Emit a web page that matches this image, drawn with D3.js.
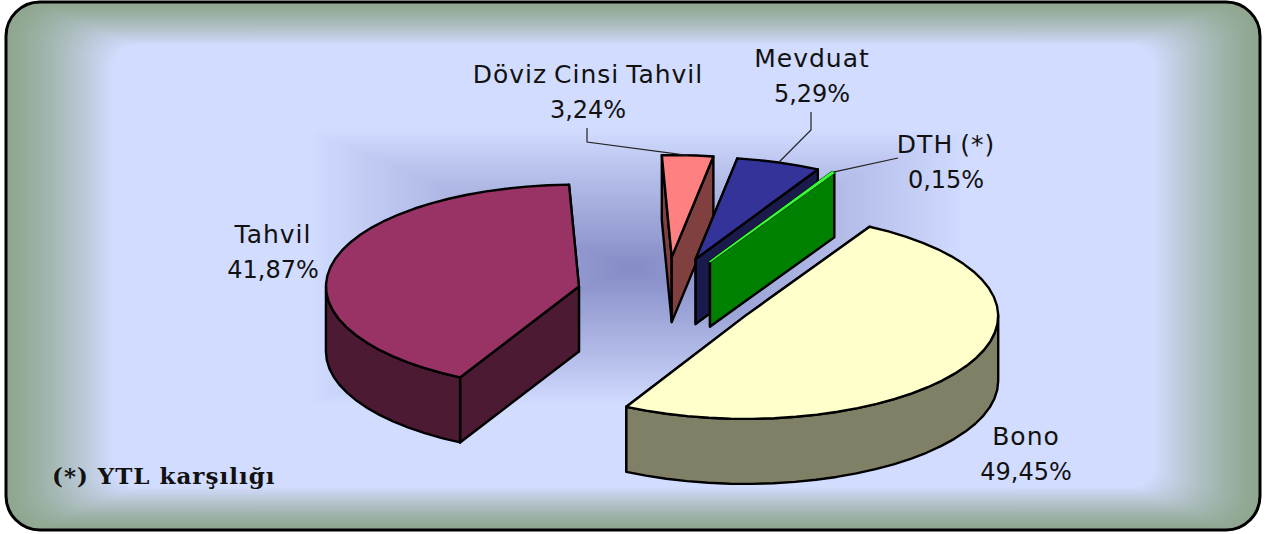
<!DOCTYPE html>
<html>
<head>
<meta charset="utf-8">
<script src="https://cdnjs.cloudflare.com/ajax/libs/d3/7.8.5/d3.min.js"></script>
<style>
  html, body { margin: 0; padding: 0; background: #fff; }
  svg { display: block; }
  text { font-family: "DejaVu Sans", sans-serif; fill: #111; }
</style>
</head>
<body>
<svg id="chart" width="1265" height="534"></svg>
<script>
// Veriler
const names = ["Bono", "Tahvil", "Döviz Cinsi Tahvil", "Mevduat", "DTH (*)"];
const shares = [49.45, 41.87, 3.24, 5.29, 0.15];
const footnote = "(*) YTL karşılığı";

const topColors = ["#ffffcc", "#993366", "#ff8080", "#333399", "#33ff33"];
const sideColors = ["#808066", "#4d1a33", "#804040", "#1a1a4d", "#008000"];

const svg = d3.select("#chart");
const box = {x: 6, y: 2, w: 1254, h: 528, r: 34};

// --- Arka plan: dikdörtgen yollu gradyanlar ---
const bg = svg.append("g");
const frameColor = d3.interpolateRgb("#8fa68f", "#d2dcff");
const nFrame = 50;
d3.range(nFrame + 1).forEach(i => {
  const t = i / nFrame;
  const l = 107 * t, r = 105 * t, v = 43 * t;
  bg.append("rect")
    .attr("x", box.x + l)
    .attr("y", box.y + v)
    .attr("width", box.w - l - r)
    .attr("height", box.h - 2 * v)
    .attr("rx", Math.max(box.r - 10 * t, 0))
    .attr("fill", frameColor(Math.pow(t, 1.3)));
});

const glowColor = d3.interpolateRgb("#d2dcff", "#858cc6");
const glow = {x0: 310, x1: 965, y0: 130, y1: 405, cx: 632, cy: 268};
const nGlow = 70;
d3.range(nGlow).forEach(i => {
  const t = i / nGlow;
  bg.append("rect")
    .attr("x", glow.x0 + (glow.cx - glow.x0) * t)
    .attr("y", glow.y0 + (glow.cy - glow.y0) * t)
    .attr("width", (glow.x1 - glow.x0) * (1 - t))
    .attr("height", (glow.y1 - glow.y0) * (1 - t))
    .attr("fill", glowColor(Math.pow(t, 0.9)));
});

svg.append("rect")
  .attr("x", box.x).attr("y", box.y)
  .attr("width", box.w).attr("height", box.h)
  .attr("rx", box.r)
  .attr("fill", "none")
  .attr("stroke", "#000")
  .attr("stroke-width", 3);

// --- Pasta (3B izdüşüm) ---
const a = 253, b = 103, depth = 65;
const center = {x: 666.5, y: 296};
const explodeX = 90, explodeY = 41;

const pie = d3.pie().sort(null)
  .startAngle(Math.PI / 6)
  .endAngle(Math.PI / 6 + 2 * Math.PI);

// arka tarafta hafif perspektif kayması
const backPull = ang => Math.pow(Math.max(0, Math.cos(ang)), 4);

const slices = pie(shares).map((s, i) => {
  const mid = (s.startAngle + s.endAngle) / 2;
  return {
    ...s,
    i: i,
    mid: mid,
    cx: center.x + explodeX * Math.sin(mid) - 2 * backPull(mid),
    cy: center.y - explodeY * Math.cos(mid) + 2 * backPull(mid)
  };
});

const rimPoint = (s, ang, dz = 0) => {
  const warped = ang - (Math.PI / 180) * backPull(ang);
  return [s.cx + a * Math.sin(warped), s.cy - b * Math.cos(warped) + backPull(ang) + dz];
};
const line = d3.line();

function arcPoints(s, from, to, dz = 0) {
  const n = Math.max(Math.ceil((to - from) / (Math.PI / 36)), 1);
  return d3.range(n + 1).map(k => rimPoint(s, from + (to - from) * k / n, dz));
}

const g = svg.append("g")
  .attr("stroke", "#000")
  .attr("stroke-width", 2.4)
  .attr("stroke-linejoin", "round");

// Thứ tự vẽ: arkadan öne
[1, 2, 3, 4, 0].forEach(i => {
  const s = slices[i];
  const apex = [s.cx, s.cy], apexLow = [s.cx, s.cy + depth];

  // Yan duvarlar (uzak olan önce)
  [s.startAngle, s.endAngle]
    .sort((p, q) => d3.descending(Math.cos(p), Math.cos(q)))
    .forEach(ang => {
      g.append("path")
        .attr("d", line([apex, rimPoint(s, ang), rimPoint(s, ang, depth), apexLow]) + "Z")
        .attr("fill", sideColors[i]);
    });

  // Ön kenar (90°–270° arası görünür)
  [0, 2 * Math.PI].forEach(turn => {
    const from = Math.max(s.startAngle, Math.PI / 2 + turn);
    const to = Math.min(s.endAngle, 3 * Math.PI / 2 + turn);
    if (to > from) {
      const up = arcPoints(s, from, to);
      const down = arcPoints(s, from, to, depth).reverse();
      g.append("path")
        .attr("d", line(up.concat(down)) + "Z")
        .attr("fill", sideColors[i]);
    }
  });

  // Üst yüz (çok ince dilimde kenar rengi dolguyu kapatmasın)
  const thin = s.endAngle - s.startAngle < 0.05;
  g.append("path")
    .attr("d", line([apex].concat(arcPoints(s, s.startAngle, s.endAngle))) + "Z")
    .attr("fill", topColors[i])
    .attr("stroke", thin ? topColors[i] : "#000")
    .attr("stroke-width", thin ? 1.6 : 2.4);
});

// --- Etiketler ---
const fmt = d3.formatLocale({decimal: ",", thousands: ".", grouping: [3], currency: ["", ""]}).format(".2f");
const labelX = [1026, 273, 588, 812, 946];
const labelY = [445, 243, 83, 67, 153];

const labels = svg.append("g").attr("text-anchor", "middle");

slices.forEach(s => {
  const t = labels.append("text");
  t.append("tspan")
    .attr("x", labelX[s.i]).attr("y", labelY[s.i])
    .attr("font-size", 25)
    .attr("letter-spacing", 1)
    .attr("word-spacing", -2)
    .text(names[s.i]);
  t.append("tspan")
    .attr("x", labelX[s.i]).attr("y", labelY[s.i] + 35)
    .attr("font-size", 24)
    .text(fmt(s.value) + "%");
});

// Kılavuz çizgileri
const leaderFrom = {
  2: [[587, 128], [587, 142]],
  3: [[811, 112], [811, 130]],
  4: [[898, 158]]
};
Object.keys(leaderFrom).forEach(k => {
  const s = slices[+k];
  svg.append("path")
    .attr("d", line(leaderFrom[k].concat([rimPoint(s, s.mid)])))
    .attr("fill", "none")
    .attr("stroke", "#222")
    .attr("stroke-width", 1.2);
});

svg.append("text")
  .attr("x", 52)
  .attr("y", 484)
  .attr("font-size", 23)
  .attr("font-weight", "bold")
  .attr("letter-spacing", 1)
  .style("font-family", '"DejaVu Serif", serif')
  .text(footnote);
</script>
</body>
</html>
